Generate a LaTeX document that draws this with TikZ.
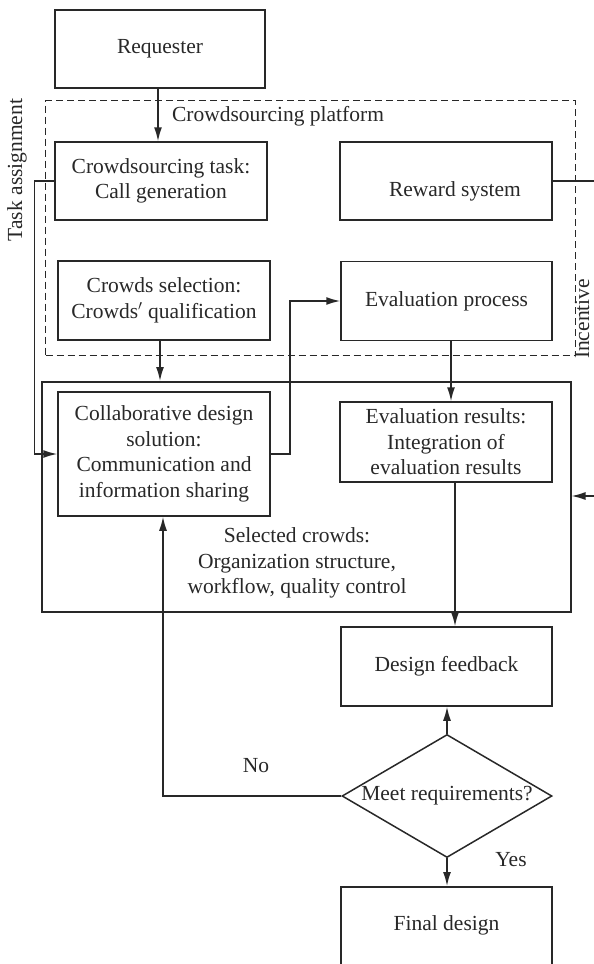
\documentclass[tikz,border=0pt]{standalone}
\usepackage{fontspec}
\setmainfont{Liberation Serif}
\usetikzlibrary{shapes.geometric,arrows.meta,calc}
\definecolor{ink}{RGB}{40,40,40}
\tikzset{
  box/.style={draw=ink, line width=1.5pt, text=ink, align=center, inner sep=0pt,
    font=\fontsize{21.5}{25.5}\selectfont},
  lbl/.style={text=ink, align=center, inner sep=0pt, font=\fontsize{21.5}{25.5}\selectfont},
  conn/.style={draw=ink, line width=1.5pt},
  arr/.style={conn, -{Latex[length=14pt,width=8pt]}},
  platform/.style={draw=ink, line width=1.3pt, dash pattern=on 7pt off 4pt},
}
\begin{document}
\begin{tikzpicture}[x=1pt,y=-1pt]
\useasboundingbox (0,0) rectangle (594,964);
\clip (0,0) rectangle (594,964);

% dashed platform
\node[platform, minimum width=530pt, minimum height=255pt, inner sep=0pt, anchor=north west] (plat) at (45,100) {};
\node[lbl] (platlbl) at (278,116) {Crowdsourcing platform};

% big solid box
\node[draw=ink, line width=1.5pt, minimum width=529pt, minimum height=230pt, inner sep=0pt, anchor=north west] (big) at (41,381) {};

% boxes
\node[box, minimum width=210pt, minimum height=78pt] (req) at (160,49) {Requester};
\node[box, minimum width=212pt, minimum height=78pt] (task) at (161,181) {Crowdsourcing task:\\Call generation};
\node[box, minimum width=212pt, minimum height=78pt] (reward) at (446,181) {\hspace*{18pt}\raisebox{-15pt}[0pt][0pt]{Reward system}};
\node[box, minimum width=212pt, minimum height=79pt] (sel) at (164,300.5) {Crowds selection:\\Crowds$'$ qualification};
\node[box, minimum width=211pt, minimum height=79pt] (evalp) at (446.5,301) {Evaluation process};
\node[box, minimum width=212pt, minimum height=124pt] (collab) at (164,454) {Collaborative design\\solution:\\Communication and\\information sharing};
\node[box, minimum width=212pt, minimum height=80pt] (evalr) at (446,442) {Evaluation results:\\Integration of\\evaluation results};
\node[lbl] (crowds) at (297,563) {Selected crowds:\\Organization structure,\\workflow, quality control};
\node[box, minimum width=211pt, minimum height=79pt] (fb) at (446.5,666.5) {Design feedback};
\node[box, shape=diamond, aspect=1.707, minimum width=210pt, minimum height=123pt] (dia) at (447,796) {Meet requirements?};
\node[box, minimum width=211pt, text height=44pt, text depth=70pt, anchor=north] (final) at (446.5,886) {Final design};

% side labels
\node[lbl, rotate=90] (tasklbl) at (17,170) {Task assignment};
\node[lbl, rotate=90] (inclbl) at (582,319) {Incentive};
\node[lbl] (nolbl) at (256,766) {No};
\node[lbl] (yeslbl) at (511,860) {Yes};

% connectors
\draw[arr] ([xshift=-2pt]req.south) -- ([xshift=-2pt]req.south |- task.north);
\draw[arr] (task.west) -- ++(-20,0) |- (collab.west);
\draw[arr] ([xshift=-4pt]sel.south) -- ([xshift=-4pt]sel.south |- big.north);
\draw[arr] (collab.east) -- ++(19,0) |- (evalp.west);
\draw[arr] ([xshift=4.5pt]evalp.south) -- ([xshift=4.5pt]evalp.south |- evalr.north);
\draw[arr] ([xshift=9pt]evalr.south) -- ([xshift=9pt]evalr.south |- fb.north);
\draw[arr] (dia.north) -- (dia.north |- fb.south);
\draw[arr] (dia.west) -| ([xshift=-1pt]collab.south);
\draw[arr] (dia.south) -- (dia.south |- final.north);

\coordinate (incA) at (605,181);
\coordinate (incB) at (605,496);
\draw[conn] (reward.east) -- (incA) -- (incB);
\draw[arr] (incB) -- (incB -| big.east);
\end{tikzpicture}
\end{document}
